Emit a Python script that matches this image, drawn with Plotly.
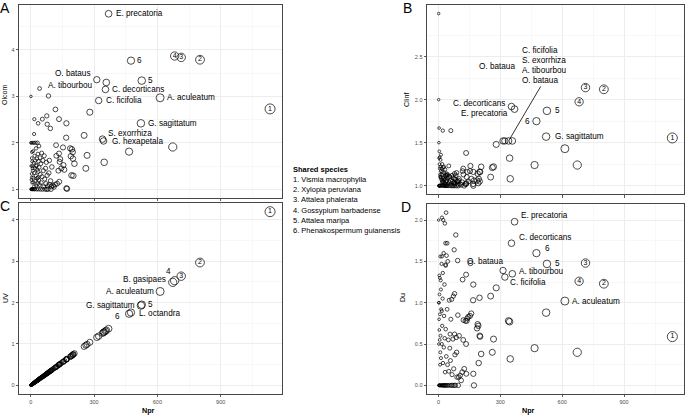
import math
import plotly.graph_objects as go

# ---------------- data ----------------
npr = [1134, 802, 713, 682, 526, 475, 673, 613, 522, 466, 369, 354, 358, 322, 340, 345, 348, 313, 155,
       280, 253, 267, 261, 202, 172, 169, 134, 117, 84, 42, 168, 207, 195, 190, 153, 187, 199, 134, 200,
       137, 193, 169, 93, 78, 76, 55, 35, 17, 16, 145, 140, 131, 121, 159, 115, 105, 125, 98, 110, 135,
       88, 100, 94, 120,
       1, 1, 2, 2, 3, 3, 4, 4, 5, 5, 6, 6, 7, 8, 8, 9, 10, 10, 11, 12, 13, 14, 15, 16, 17, 18, 19, 20,
       21, 22, 23, 24, 25, 26, 27, 28, 29, 30, 31, 32, 33, 34, 35, 36, 37, 38, 39, 40, 42, 44, 45, 46,
       48, 50, 52, 54, 56, 58, 60, 62, 64, 66, 68, 70, 72, 74, 76, 78, 80, 82, 86, 90, 96,
       3, 12, 7, 18, 9, 26, 34]

olcom = [2.73, 3.79, 3.84, 3.87, 3.34, 3.77, 1.91, 2.97, 2.42, 1.81, 4.78, 3.15, 3.30, 2.91, 2.08, 2.04, 1.58, 3.36, 1.52,
         2.66, 2.16, 1.73, 1.45, 1.29, 1.01, 2.42, 2.51, 2.72, 3.01, 3.17, 2.11, 1.55, 1.86, 1.71, 1.90, 1.88, 1.80, 1.77, 1.66,
         1.59, 1.30, 1.02, 2.31, 2.40, 2.58, 2.51, 2.42, 2.51, 2.19, 1.45, 1.65, 1.40, 1.72, 1.42, 1.10, 1.08, 1.12, 1.06, 1.05, 1.16,
         1.62, 1.48, 1.18, 1.95,
         3.00, 2.00, 1.00, 1.50, 1.00, 2.00, 1.33, 1.00, 1.67, 1.25,
         1.00, 1.80, 1.14, 1.50, 1.00, 2.00, 1.40, 1.00, 1.82, 1.25,
         1.15, 1.57, 2.00, 1.06, 1.35, 1.72, 1.00, 1.45, 1.62, 1.18,
         2.00, 1.29, 1.88, 1.08, 1.52, 1.00, 1.66, 1.23, 1.42, 2.00,
         1.12, 1.76, 1.38, 1.00, 1.60, 1.20, 1.93, 1.47, 1.10, 1.68,
         1.32, 1.00, 1.55, 1.14, 1.78, 1.27, 1.00, 1.62, 1.40, 1.05,
         1.72, 1.22, 1.00, 1.45, 1.12, 1.58, 1.00, 1.30, 1.07, 1.00,
         1.35, 1.10, 1.00,
         1.20, 1.00, 1.60, 1.00, 1.45, 1.50, 1.25]

clinf = [1.555, 2.12, 2.14, 1.975, 1.87, 1.75, 1.24, 1.43, 1.57, 1.24, 1.89, 1.92, 1.52, 1.52, 1.52, 1.32, 1.08, 1.52, 1.23,
         1.48, 1.10, 1.22, 1.21, 1.16, 1.06, 1.16, 1.38, 1.17, 1.12, 1.12, 1.02, 1.22, 1.08, 1.14, 1.17, 1.06, 1.16, 1.02, 1.05,
         1.10, 1.03, 1.00, 1.05, 1.08, 1.03, 1.10, 1.12, 1.04, 1.01, 1.05, 1.16, 1.02, 1.13, 1.08, 1.04, 1.02, 1.00, 1.06, 1.01, 1.03,
         1.15, 1.08, 1.02, 1.20,
         3.00, 2.00, 1.50, 1.00, 1.67, 1.00, 1.40, 1.00, 1.25, 1.00,
         1.33, 1.20, 1.00, 1.13, 1.00, 1.22, 1.10, 1.30, 1.09, 1.17,
         1.00, 1.07, 1.20, 1.13, 1.00, 1.06, 1.16, 1.05, 1.64, 1.09,
         1.00, 1.21, 1.04, 1.00, 1.15, 1.07, 1.00, 1.10, 1.03, 1.19,
         1.02, 1.08, 1.00, 1.12, 1.05, 1.00, 1.14, 1.06, 1.00, 1.13,
         1.02, 1.09, 1.00, 1.23, 1.04, 1.11, 1.00, 1.06, 1.64, 1.02,
         1.00, 1.12, 1.05, 1.00, 1.09, 1.03, 1.00, 1.14, 1.02, 1.07,
         1.00, 1.05, 1.00,
         1.32, 1.36, 1.00, 1.25, 1.11, 1.22, 1.00]

uv = [4.20, 2.97, 2.64, 2.53, 1.95, 1.76, 2.49, 2.27, 1.93, 1.73, 1.37, 1.31, 1.33, 1.19, 1.26, 1.28, 1.29, 1.16, 0.57,
      1.04, 0.94, 0.99, 0.97, 0.75, 0.64, 0.63, 0.50, 0.43, 0.31, 0.16, 0.62, 0.77, 0.72, 0.70, 0.57, 0.69, 0.74, 0.50, 0.74,
      0.51, 0.71, 0.63, 0.34, 0.29, 0.28, 0.20, 0.13, 0.06, 0.06, 0.54, 0.52, 0.49, 0.45, 0.59, 0.43, 0.39, 0.46, 0.36, 0.41, 0.50,
      0.33, 0.37, 0.35, 0.44,
      0.00, 0.00, 0.01, 0.01, 0.01, 0.01, 0.01, 0.01, 0.02, 0.02, 0.02, 0.02, 0.03, 0.03, 0.03, 0.03, 0.04, 0.04, 0.04, 0.04,
      0.05, 0.05, 0.06, 0.06, 0.06, 0.07, 0.07, 0.07, 0.08, 0.08, 0.09, 0.09, 0.09, 0.10, 0.10, 0.10, 0.11, 0.11, 0.11, 0.12,
      0.12, 0.13, 0.13, 0.13, 0.14, 0.14, 0.14, 0.15, 0.16, 0.16, 0.17, 0.17, 0.18, 0.19, 0.19, 0.20, 0.21, 0.21, 0.22, 0.23,
      0.24, 0.24, 0.25, 0.26, 0.27, 0.27, 0.28, 0.29, 0.30, 0.30, 0.32, 0.33, 0.36,
      0.01, 0.04, 0.03, 0.07, 0.03, 0.10, 0.13]

du = [0.59, 1.23, 1.48, 1.26, 1.47, 1.60, 0.40, 1.02, 0.88, 0.45, 1.98, 1.72, 1.35, 1.31, 0.78, 0.77, 0.32, 1.39, 1.48,
      1.18, 1.08, 0.56, 0.40, 0.59, 0.00, 1.22, 1.34, 1.28, 1.82, 1.72, 1.03, 0.38, 0.27, 0.74, 0.84, 0.69, 1.06, 0.50, 0.60,
      0.78, 0.72, 0.14, 1.51, 1.11, 1.64, 0.45, 1.45, 1.56, 0.90, 0.83, 0.81, 0.78, 0.79, 0.87, 0.16, 0.12, 0.20, 0.10, 0.06, 0.14,
      0.40, 0.60, 0.85, 0.55,
      2.00, 1.00, 0.00, 0.50, 1.00, 0.00, 0.67, 1.33, 0.00, 1.10,
      0.55, 0.00, 0.86, 0.25, 0.00, 1.56, 0.60, 0.00, 1.27, 0.33,
      0.92, 0.00, 1.47, 0.50, 2.03, 0.72, 0.00, 1.05, 1.36, 0.27,
      2.00, 0.00, 1.60, 0.46, 0.84, 0.00, 1.22, 0.57, 1.96, 0.16,
      0.00, 1.46, 0.68, 0.00, 2.09, 0.35, 1.57, 0.00, 0.92, 0.25,
      1.50, 0.00, 0.55, 0.17, 1.03, 0.00, 0.62, 0.30, 0.80, 0.00,
      1.04, 0.13, 0.00, 0.56, 1.08, 0.20, 0.00, 0.62, 0.37, 0.00,
      0.58, 0.10, 0.00,
      0.80, 1.16, 1.30, 0.00, 0.40, 0.00, 1.72]

shared_species = ["1. Vismia macrophylla", "2. Xylopia peruviana", "3. Attalea phalerata",
                  "4. Gossypium barbadense", "5. Attalea maripa", "6. Phenakospermum guianensis"]
x_ticks = [0, 300, 600, 900]

# ---------------- style ----------------
FONT = "Liberation Sans, Arial, sans-serif"
W, H = 685, 416
sizes = [2.3 + 0.23 * math.sqrt(n) for n in npr]

panels = [  # (xref, yref, values, x px span, y px span, y range, y ticks, minor step)
    ("x", "y", olcom, (19, 282), (5, 198), [0.811, 4.969], [1, 2, 3, 4], 0.5),
    ("x2", "y2", clinf, (427, 684), (5, 194.3), [0.9, 3.1], [1.0, 1.5, 2.0, 2.5], 0.25),
    ("x3", "y3", uv, (19, 282), (203, 394), [-0.21, 4.41], [0, 1, 2, 3, 4], 0.5),
    ("x4", "y4", du, (427, 684), (204, 394), [-0.1045, 2.1945], [0.0, 0.5, 1.0, 1.5, 2.0], 0.25),
]

fig = go.Figure()
layout = dict(width=W, height=H, margin=dict(l=0, r=0, t=0, b=0, pad=0, autoexpand=False),
              paper_bgcolor="white", plot_bgcolor="white", showlegend=False,
              font=dict(family=FONT, color="black"))

axis_common = dict(showline=True, mirror=True, linecolor="#333333", linewidth=0.9,
                   ticks="outside", ticklen=2.5, tickwidth=0.8, tickcolor="#333333",
                   showgrid=True, gridcolor="#EBEBEB", gridwidth=0.9, zeroline=False,
                   automargin=False,
                   tickfont=dict(size=5.5, color="#4D4D4D", family=FONT))

for k, (xr, yr, vals, (x0, x1), (y0, y1), yrange, yt, ymin) in enumerate(panels):
    sfx = "" if k == 0 else str(k + 1)
    layout["xaxis" + sfx] = dict(axis_common, domain=[x0 / W, x1 / W], range=[-55.6, 1190.6],
                                 tickvals=x_ticks, anchor=yr,
                                 showticklabels=(k >= 2),
                                 minor=dict(tickvals=[150, 450, 750, 1050], showgrid=True,
                                            gridcolor="#F1F1F1", gridwidth=0.5, ticks=""))
    mids = [yt[0] - ymin] + [v + ymin for v in yt]
    layout["yaxis" + sfx] = dict(axis_common, domain=[1 - y1 / H, 1 - y0 / H], range=yrange,
                                 tickvals=yt, ticktext=[("%g" % v) if ymin == 0.5 else ("%.1f" % v) for v in yt],
                                 anchor=xr,
                                 minor=dict(tickvals=mids, showgrid=True, gridcolor="#F1F1F1",
                                            gridwidth=0.5, ticks=""))
    fig.add_trace(go.Scatter(x=npr, y=vals, mode="markers", xaxis=xr, yaxis=yr,
                             marker=dict(symbol="circle-open", size=sizes, color="#000000",
                                         line=dict(width=1.0)),
                             hoverinfo="skip"))

fig.update_layout(**layout)

# numbers drawn inside the shared-species circles
inside = {0: [0, 1, 2, 3], 1: [0, 1, 2, 3], 2: [0, 1, 2], 3: [0, 1, 2, 3]}
for k, (xr, yr, vals, *_rest) in enumerate(panels):
    idx = inside[k]
    fig.add_trace(go.Scatter(x=[npr[i] for i in idx], y=[vals[i] for i in idx],
                             text=[str(i + 1) for i in idx], mode="text", xaxis=xr, yaxis=yr,
                             textfont=dict(size=7, family=FONT, color="black"),
                             textposition="middle center", hoverinfo="skip"))

ann = []
LS = 8.2


def lab(k, i, text, anchor="left", dx=0, dy=0):
    xr, yr, vals = panels[k][0], panels[k][1], panels[k][2]
    ann.append(dict(x=npr[i], y=vals[i], xref=xr, yref=yr, text=text, showarrow=False,
                    xanchor=anchor, yanchor="middle", xshift=dx, yshift=dy,
                    font=dict(size=LS, family=FONT, color="black")))


# Panel A
lab(0, 10, "E. precatoria", dx=5)
lab(0, 5, "6", dx=4)
lab(0, 4, "5", dx=4)
lab(0, 17, "O. bataus", "right", dx=-3.5, dy=5.7)
lab(0, 12, "A. tibourbou", "right", dx=-11.4, dy=-3.2)
lab(0, 11, "C. decorticans", dx=4.4)
lab(0, 13, "C. ficifolia", dx=5)
lab(0, 7, "A. aculeatum", dx=5)
lab(0, 8, "G. sagittatum", dx=5)
lab(0, 14, "S. exorrhiza", dx=3.4, dy=6)
lab(0, 15, "G. hexapetala", dx=6, dy=-0.5)

# Panel B
for j, t in enumerate(["C. ficifolia", "S. exorrhiza", "A. tibourbou", "O. bataua"]):
    lab(1, 14, t, dx=11.4, dy=90.7 - 10.2 * j)
ann.append(dict(x=npr[14], y=clinf[14], xref="x2", yref="y2", text="", showarrow=True,
                arrowhead=0, arrowwidth=0.8, arrowcolor="black", ax=33, ay=-56, standoff=3))
lab(1, 14, "O. bataua", "right", dx=8.1, dy=74)
lab(1, 11, "C. decorticans", "right", dx=-4.8, dy=3.3)
lab(1, 10, "E. precatoria", "right", dx=-4.6, dy=-4.1)
lab(1, 4, "5", dx=6)
lab(1, 5, "6", "right", dx=-4)
lab(1, 8, "G. sagittatum", dx=7)

# Panel C
lab(2, 6, "B. gasipaes", "right", dx=-4.5, dy=2.7)
lab(2, 3, "4", "center", dx=-6.4, dy=9.3)
lab(2, 7, "A. aculeatum", "right", dx=-4)
lab(2, 8, "G. sagittatum", "right", dx=-4)
lab(2, 4, "5", dx=4)
lab(2, 5, "6", "right", dx=-9, dy=-3.6)
lab(2, 9, "L. octandra", dx=7.5)

# Panel D
lab(3, 10, "E. precatoria", dx=4.7, dy=6.5)
lab(3, 11, "C. decorticans", dx=5.2, dy=6.2)
lab(3, 5, "6", dx=6.3, dy=4.5)
lab(3, 4, "5", dx=6.4)
lab(3, 17, "O. bataua", "right", dx=2, dy=8.7)
lab(3, 12, "A. tibourbou", dx=4.4, dy=2)
lab(3, 13, "C. ficifolia", dx=3.4, dy=-5.7)
lab(3, 7, "A. aculeatum", dx=5)


def paper_text(x, y, text, size, angle=0, bold=False, anchor="center"):
    ann.append(dict(x=x / W, y=1 - y / H, xref="paper", yref="paper", text=("<b>%s</b>" % text) if bold else text,
                    showarrow=False, xanchor=anchor, yanchor="middle", textangle=angle,
                    font=dict(size=size, family=FONT, color="black")))


# panel letters
paper_text(4.5, 8.5, "A", 14)
paper_text(407, 8.5, "B", 14)
paper_text(4.5, 206, "C", 14)
paper_text(406, 207, "D", 14)

# axis titles
paper_text(5, 95, "Olcom", 7, angle=-90)
paper_text(406, 100, "CIinf", 7, angle=-90)
paper_text(5, 298, "UV", 7, angle=-90)
paper_text(402, 298, "Du", 7, angle=-90)
paper_text(148, 410, "Npr", 7.2, bold=True)
paper_text(528, 410, "Npr", 7.2, bold=True)

# shared species legend
paper_text(291, 169, "Shared species", 7.5, bold=True, anchor="left")
for j, s in enumerate(shared_species):
    paper_text(291, 179.3 + 10.3 * j, s, 7.5, anchor="left")

fig.update_layout(annotations=ann)
fig.write_html("out.html",
               config={"displayModeBar": False, "staticPlot": True},
               post_script="document.body.style.margin='0';document.body.style.padding='0';"
                           "document.body.style.overflow='hidden';")
